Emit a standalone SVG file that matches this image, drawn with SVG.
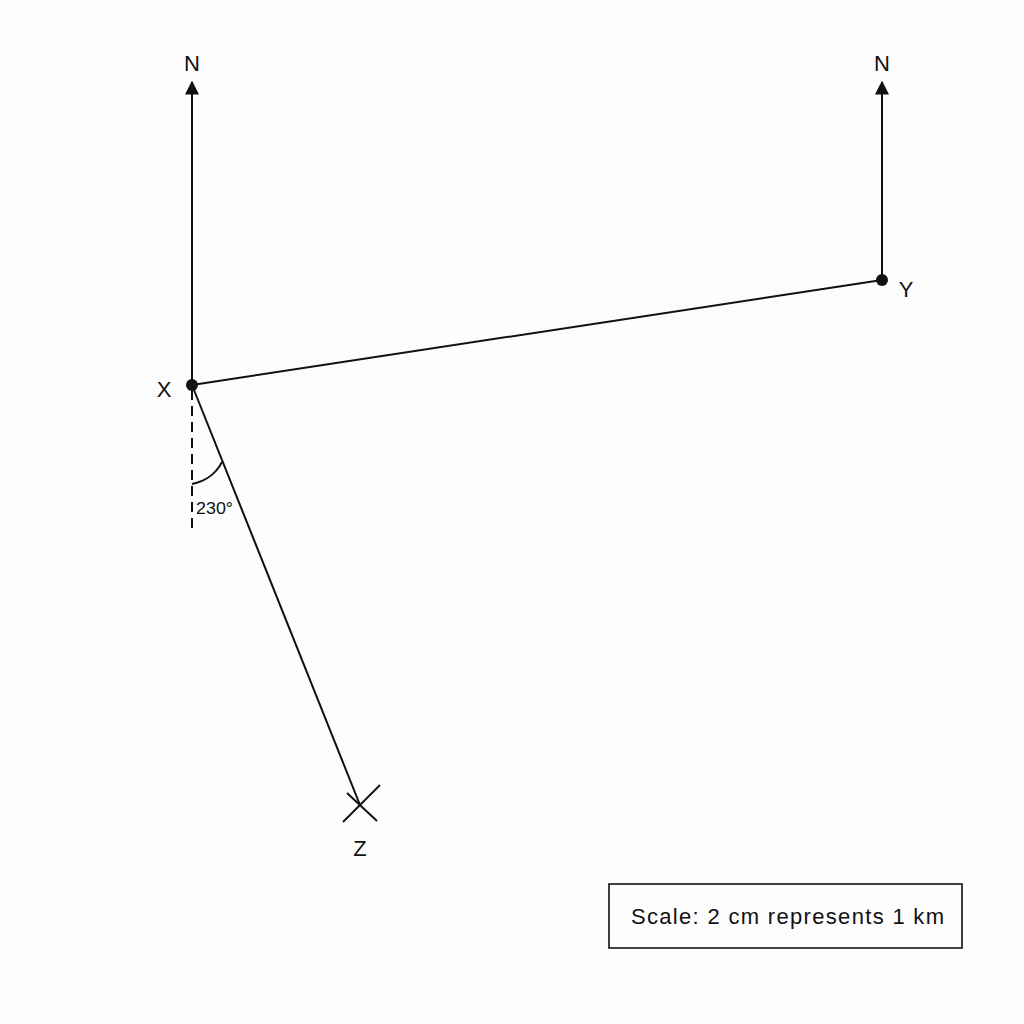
<svg xmlns="http://www.w3.org/2000/svg" width="1024" height="1024" viewBox="0 0 1024 1024">
<style>
.ln{stroke:#111;stroke-width:2;fill:none}
.lbl{font-family:"Liberation Sans",Arial,sans-serif;font-size:22px;fill:#111;text-anchor:middle}
</style>
<defs>
<marker id="arr" viewBox="0 0 10 10" refX="9" refY="5" markerWidth="7" markerHeight="7" orient="auto" markerUnits="strokeWidth">
<path d="M0,0 L10,5 L0,10 z" fill="#111"/>
</marker>
</defs>
<rect width="1024" height="1024" fill="#fdfdfd"/>
<g id="connectors">
<line class="ln" x1="192" y1="385" x2="192" y2="82" marker-end="url(#arr)"/>
<line class="ln" x1="882" y1="280" x2="882" y2="82" marker-end="url(#arr)"/>
<line class="ln" x1="192" y1="385" x2="882" y2="280"/>
<line class="ln" x1="192" y1="385" x2="360" y2="805"/>
<line class="ln" x1="192" y1="390" x2="192" y2="533" stroke-dasharray="10,6"/>
<path class="ln" d="M192,484 A 42 42 0 0 0 222,462" stroke-width="1.6"/>
</g>
<g id="X">
<circle cx="192" cy="385" r="6" fill="#111"/>
<text class="lbl" x="164" y="397">X</text>
</g>
<g id="Y">
<circle cx="882" cy="280" r="6" fill="#111"/>
<text class="lbl" x="906" y="297">Y</text>
</g>
<g id="Z">
<line class="ln" x1="343" y1="822" x2="380" y2="785"/>
<line class="ln" x1="347" y1="793" x2="377" y2="821"/>
<text class="lbl" x="360" y="856">Z</text>
</g>
<g id="N1"><text class="lbl" x="192" y="71">N</text></g>
<g id="N2"><text class="lbl" x="882" y="71">N</text></g>
<g id="angle"><text x="196" y="514" font-family="Liberation Sans,Arial,sans-serif" font-size="17" fill="#111" textLength="37" lengthAdjust="spacingAndGlyphs">230°</text></g>
<g id="scale">
<rect x="609" y="884" width="353" height="64" fill="none" stroke="#111" stroke-width="1.6"/>
<text x="631" y="924" font-family="Liberation Sans,Arial,sans-serif" font-size="22" fill="#111" textLength="313" lengthAdjust="spacing">Scale: 2 cm represents 1 km</text>
</g>
</svg>
